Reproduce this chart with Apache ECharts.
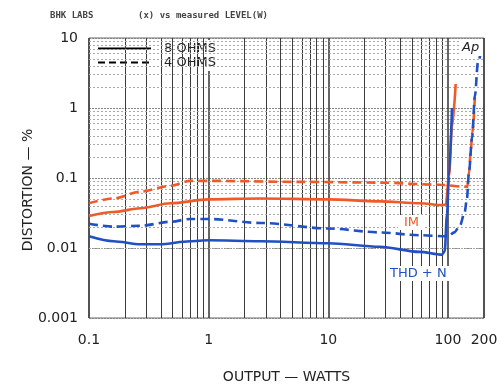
<!DOCTYPE html>
<html>
<head>
<meta charset="utf-8">
<script src="https://cdn.jsdelivr.net/npm/echarts@6/dist/echarts.min.js"></script>
<style>
  html, body { margin: 0; padding: 0; background: #fff; }
  #chart { width: 504px; height: 389px; }
</style>
</head>
<body>
<div id="chart"></div>
<script>
// output power (W) and distortion (%)
var im8Watts = [0.1, 0.16, 0.27, 0.48, 1, 2.7, 10, 27, 58, 91, 96, 102, 108, 116];
var im8Pct = [0.0287, 0.0327, 0.037, 0.0435, 0.0495, 0.051, 0.0495, 0.0464, 0.0435, 0.041, 0.042, 0.107, 0.53, 2.2];

var thd8Watts = [0.1, 0.16, 0.27, 0.39, 0.7, 1, 2.7, 10, 27, 58, 89, 94, 98, 102, 108];
var thd8Pct = [0.0147, 0.0125, 0.0113, 0.0113, 0.0125, 0.0129, 0.0125, 0.0117, 0.0104, 0.0088, 0.008, 0.009, 0.0297, 0.107, 1.0];

var im4Watts = [0.1, 0.16, 0.27, 0.48, 0.7, 1, 5.8, 27, 86, 138, 145, 150, 155, 160, 168];
var im4Pct = [0.0435, 0.051, 0.064, 0.0774, 0.0909, 0.091, 0.088, 0.086, 0.08, 0.075, 0.075, 0.12, 0.25, 0.45, 1.5];

var thd4Watts = [0.1, 0.16, 0.27, 0.48, 0.7, 1, 2.7, 10, 27, 58, 100, 113, 126, 138, 144, 150, 159, 168, 178, 189];
var thd4Pct = [0.0222, 0.0202, 0.0208, 0.0237, 0.026, 0.026, 0.0228, 0.019, 0.0167, 0.0152, 0.0147, 0.0167, 0.021, 0.0327, 0.051, 0.125, 0.38, 1.5, 4.5, 6.4];

// grid lines between the decades
var xMinor = [0.2, 0.3, 0.4, 0.5, 0.6, 0.7, 0.8, 0.9, 2, 3, 4, 5, 6, 7, 8, 9, 20, 30, 40, 50, 60, 70, 80, 90];
var yMinor = [0.002, 0.003, 0.004, 0.005, 0.006, 0.007, 0.008, 0.009,
  0.02, 0.03, 0.04, 0.05, 0.06, 0.07, 0.08, 0.09,
  0.2, 0.3, 0.4, 0.5, 0.6, 0.7, 0.8, 0.9,
  2, 3, 4, 5, 6, 7, 8, 9];

var ORANGE = '#f05a28';
var BLUE = '#2150c2';
var FONT = 'DejaVu Sans';

function pairs(xs, ys) {
  return xs.map(function (x, i) { return [x, ys[i]]; });
}

function curve(name, xs, ys, color, dashed) {
  return {
    name: name,
    type: 'line',
    data: pairs(xs, ys),
    symbol: 'none',
    smooth: 0.3,
    smoothMonotone: 'x',
    z: 5,
    lineStyle: { color: color, width: 2.6, type: dashed ? [9, 5] : 'solid' },
    itemStyle: { color: color }
  };
}

var chart = echarts.init(document.getElementById('chart'));

var option = {
  animation: false,
  textStyle: { fontFamily: FONT },
  grid: {
    left: 89, right: 20, top: 38, bottom: 64,
    show: true, borderColor: '#666', borderWidth: 1
  },
  legend: {
    data: ['8 OHMS', '4 OHMS'],
    orient: 'vertical',
    left: 91, top: 40,
    itemWidth: 53, itemHeight: 10, itemGap: 1,
    backgroundColor: '#fff',
    padding: [2, 6, 2, 6],
    selectedMode: false,
    itemStyle: { opacity: 0 },
    textStyle: { fontFamily: FONT, fontSize: 13, color: '#222', padding: [0, 0, 0, 8] }
  },
  xAxis: {
    type: 'log', logBase: 10, min: 0.1, max: 200,
    name: 'OUTPUT — WATTS', nameLocation: 'middle', nameGap: 52,
    nameTextStyle: { fontFamily: FONT, fontSize: 14, color: '#222' },
    axisLine: { show: false }, axisTick: { show: false },
    axisLabel: { fontSize: 14, color: '#222', margin: 15, showMaxLabel: true, showMinLabel: true },
    splitLine: { show: true, lineStyle: { color: '#333', width: 1.5 } }
  },
  yAxis: {
    type: 'log', logBase: 10, min: 0.001, max: 10,
    axisLine: { show: false }, axisTick: { show: false },
    axisLabel: { fontSize: 14, color: '#222', margin: 11 },
    splitLine: { show: true, lineStyle: { color: '#888', width: 1, type: [2, 1] } }
  },
  series: [
    {
      name: 'grid', type: 'line', data: [], z: 1, silent: true,
      markLine: {
        silent: true, symbol: ['none', 'none'], animation: false,
        label: { show: false },
        lineStyle: { color: '#3c3c3c', width: 1, type: 'solid' },
        data: xMinor.map(function (v) { return { xAxis: v }; })
      }
    },
    {
      name: 'hgrid', type: 'line', data: [], z: 1, silent: true,
      markLine: {
        silent: true, symbol: ['none', 'none'], animation: false,
        label: { show: false },
        lineStyle: { color: '#aaa', width: 1, type: [2, 2] },
        data: yMinor.map(function (v) { return { yAxis: v }; })
      }
    },
    { name: '8 OHMS', type: 'line', data: [], symbol: 'none', color: '#000', lineStyle: { color: '#000', width: 2.5 } },
    { name: '4 OHMS', type: 'line', data: [], symbol: 'none', color: '#000', lineStyle: { color: '#000', width: 2.5, type: [7, 4] } },
    curve('IM 4', im4Watts, im4Pct, ORANGE, true),
    curve('IM 8', im8Watts, im8Pct, ORANGE, false),
    curve('THD 4', thd4Watts, thd4Pct, BLUE, true),
    curve('THD 8', thd8Watts, thd8Pct, BLUE, false)
  ],
  graphic: [
    { type: 'text', left: 50, top: 11, style: { text: 'BHK LABS', font: 'bold 9px "DejaVu Sans Mono"', fill: '#444' } },
    { type: 'text', left: 138, top: 11, style: { text: '(x) vs measured LEVEL(W)', font: 'bold 9px "DejaVu Sans Mono"', fill: '#444' } },
    {
      type: 'text', x: 28, y: 190, rotation: Math.PI / 2,
      style: { text: 'DISTORTION — %', font: '14px "DejaVu Sans"', fill: '#222', align: 'center', verticalAlign: 'middle' }
    },
    { type: 'rect', left: 461, top: 39, shape: { width: 22, height: 17 }, style: { fill: '#fff' }, z: 10 },
    { type: 'text', left: 462, top: 41, z: 11, style: { text: 'Ap', font: 'italic 13px "DejaVu Sans"', fill: '#222' } },
    { type: 'text', left: 398, top: 215, z: 11, style: { text: 'IM', font: '13px "DejaVu Sans"', fill: ORANGE, backgroundColor: '#fff', padding: [1, 6] } },
    { type: 'text', left: 386, top: 266, z: 11, style: { text: 'THD + N', font: '13px "DejaVu Sans"', fill: BLUE, backgroundColor: '#fff', padding: [1, 4] } }
  ]
};

chart.setOption(option);
</script>
</body>
</html>
